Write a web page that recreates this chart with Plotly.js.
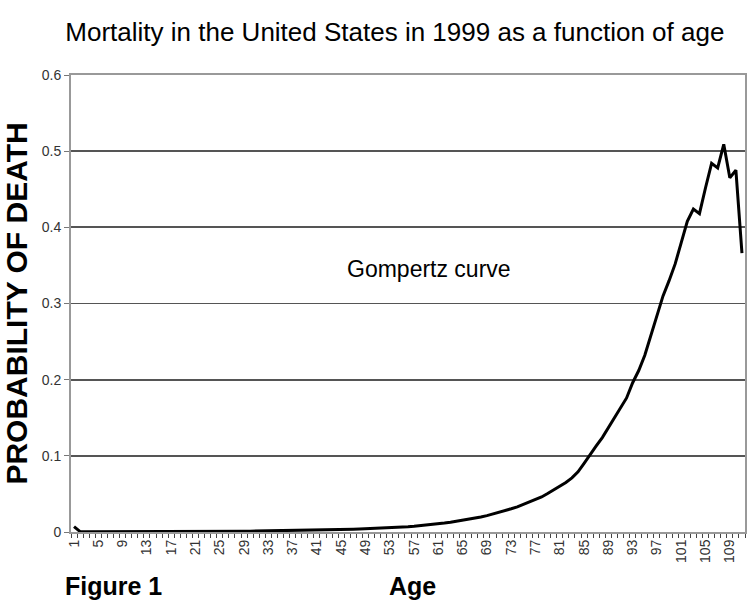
<!DOCTYPE html>
<html>
<head>
<meta charset="utf-8">
<script src="https://cdn.plot.ly/plotly-3.0.1.min.js"></script>
<style>html,body{margin:0;padding:0;background:#fff;}#chart{width:755px;height:605px;}</style>
</head>
<body>
<div id="chart"></div>
<script>
// Age categories (labels 1..111, i.e. age 0..110)
const ageCategories = Array.from({length: 111}, (_, i) => i + 1);

// Probability of death, one value per category
const probabilityOfDeath = [
  0.0071, 0.0005, 0.0003, 0.0003, 0.0002, 0.0002, 0.0002, 0.0002, 0.0001, 0.0001,
  0.0001, 0.0001, 0.0002, 0.0002, 0.0004, 0.0006, 0.0007, 0.0009, 0.0010, 0.0010,
  0.0010, 0.0010, 0.0010, 0.0010, 0.0010, 0.0010, 0.0010, 0.0010, 0.0010, 0.0011,
  0.0012, 0.0012, 0.0013, 0.0014, 0.0015, 0.0016, 0.0017, 0.0018, 0.0019, 0.0020,
  0.0022, 0.0024, 0.0026, 0.0028, 0.0030, 0.0033, 0.0035, 0.0038, 0.0041, 0.0044,
  0.0047, 0.0051, 0.0055, 0.0060, 0.0065, 0.0070, 0.0076, 0.0083, 0.0090, 0.0098,
  0.0107, 0.0117, 0.0128, 0.0140, 0.0152, 0.0165, 0.0180, 0.0197, 0.0215, 0.0235,
  0.0257, 0.0280, 0.0305, 0.0330, 0.0360, 0.0390, 0.0420, 0.0460, 0.0505, 0.0550,
  0.0600, 0.0650, 0.0710, 0.0790, 0.0900, 0.1020, 0.1130, 0.1240, 0.1370, 0.1500,
  0.1620, 0.1760, 0.1960, 0.2120, 0.2320, 0.2580, 0.2850, 0.3100, 0.3300, 0.3520,
  0.3800, 0.4080, 0.4240, 0.4180, 0.4520, 0.4840, 0.4780, 0.5090, 0.4650, 0.4750,
  0.3660
];

// Tick labels shown every 4th category
const xTickLabels = [1,5,9,13,17,21,25,29,33,37,41,45,49,53,57,61,65,69,73,77,81,85,89,93,97,101,105,109];
const yTickValues = [0, 0.1, 0.2, 0.3, 0.4, 0.5, 0.6];

const chartTitle = "Mortality in the United States in 1999 as a function of age";
const yTitle = "PROBABILITY OF DEATH";
const curveLabel = "Gompertz curve";
const figureLabel = "Figure 1";
const xTitle = "Age";

const narrow = "'Liberation Sans Narrow', 'Arial Narrow', 'Liberation Sans', Arial, sans-serif";
const sans = "'Liberation Sans', Arial, sans-serif";

const trace = {
  x: ageCategories,
  y: probabilityOfDeath,
  type: 'scatter',
  mode: 'lines',
  line: {color: '#000', width: 3},
  hoverinfo: 'x+y'
};

const layout = {
  width: 755,
  height: 605,
  margin: {l: 71, r: 10, t: 75, b: 73},
  paper_bgcolor: '#fff',
  plot_bgcolor: '#fff',
  showlegend: false,
  title: {
    text: chartTitle,
    font: {family: sans, size: 26, color: '#000'},
    x: 0.523, xref: 'container', xanchor: 'center',
    y: 0.948, yref: 'container', yanchor: 'middle'
  },
  xaxis: {
    type: 'linear',
    range: [0.5, 111.5],
    tickmode: 'array',
    tickvals: xTickLabels,
    ticktext: xTickLabels.map(String),
    ticks: '',
    tickangle: -90,
    tickfont: {family: sans, size: 14, color: '#333'},
    showgrid: false,
    zeroline: false,
    showline: true,
    linecolor: '#999',
    linewidth: 2,
    mirror: true,
    minor: {tick0: 0.5, dtick: 1, ticks: 'outside', ticklen: 4, tickcolor: '#444', tickwidth: 1, showgrid: false}
  },
  yaxis: {
    range: [0, 0.6],
    tickmode: 'array',
    tickvals: yTickValues,
    ticktext: yTickValues.map(String),
    ticks: 'outside',
    ticklen: 5,
    tickcolor: '#777',
    tickfont: {family: sans, size: 14, color: '#333'},
    showgrid: true,
    gridcolor: '#555',
    gridwidth: 1.8,
    zeroline: false,
    showline: true,
    linecolor: '#999',
    linewidth: 2,
    mirror: true,
    title: {
      text: '<b>' + yTitle + '</b>',
      font: {family: sans, size: 30, color: '#000'},
      standoff: 8
    }
  },
  annotations: [
    {text: curveLabel, xref: 'paper', yref: 'paper', x: 0.531, y: 0.576, xanchor: 'center', yanchor: 'middle', showarrow: false, font: {family: sans, size: 23, color: '#000'}},
    {text: '<b>' + figureLabel + '</b>', xref: 'paper', yref: 'paper', x: -0.012, y: -0.118, xanchor: 'left', yanchor: 'middle', showarrow: false, font: {family: narrow, size: 25, color: '#000'}},
    {text: '<b>' + xTitle + '</b>', xref: 'paper', yref: 'paper', x: 0.506, y: -0.118, xanchor: 'center', yanchor: 'middle', showarrow: false, font: {family: narrow, size: 25, color: '#000'}}
  ]
};

Plotly.newPlot('chart', [trace], layout, {displayModeBar: false, staticPlot: true});
</script>
</body>
</html>
